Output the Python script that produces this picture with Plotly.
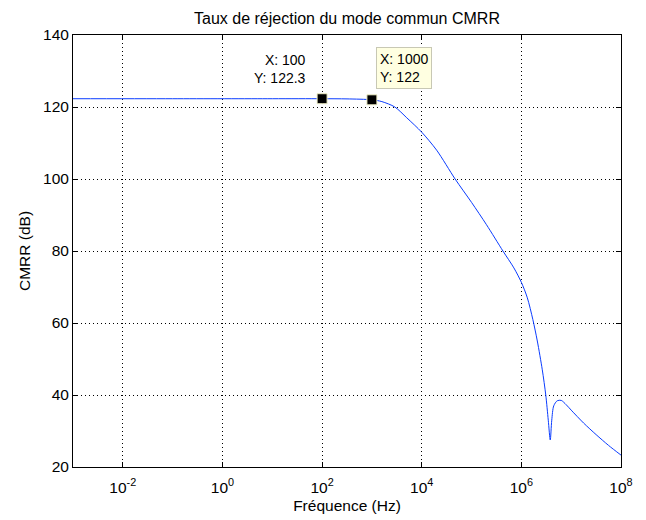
import numpy as np
import plotly.graph_objects as go

# Read values (frequency as log10 exponent, CMRR in dB)
log_freq = [-3, -1, 1, 2, 2.5, 3, 3.2, 3.46, 3.7, 4.0, 4.3, 4.67, 5.0, 5.3, 5.63,
            5.85, 6.0, 6.12, 6.23, 6.32, 6.42, 6.49, 6.54, 6.58, 6.61, 6.65, 6.72,
            6.8, 6.9, 7.0, 7.25, 7.5, 7.75, 8.0]
cmrr_db = [122.3, 122.3, 122.3, 122.3, 122.25, 122.0, 121.5, 120, 117, 113, 108,
           100, 93.5, 87.3, 80, 75.3, 71.3, 67, 61, 55, 47, 40, 33, 27.5, 33, 37,
           38.4, 38.5, 37.3, 35.8, 32.2, 29, 26, 23.3]

tip_x = [100, 1000]
tip_y = [122.3, 122]

x_tickvals = [1e-2, 1e0, 1e2, 1e4, 1e6, 1e8]
x_ticktext = ["10<sup>-2</sup>", "10<sup>0</sup>", "10<sup>2</sup>",
              "10<sup>4</sup>", "10<sup>6</sup>", "10<sup>8</sup>"]
y_tickvals = [20, 40, 60, 80, 100, 120, 140]

freq = [10 ** v for v in log_freq]

FONT = "Liberation Sans, Arial, Helvetica, sans-serif"
FS = 15.5

fig = go.Figure()
fig.add_trace(go.Scatter(
    x=freq, y=cmrr_db, mode="lines",
    line=dict(color="#0a3cff", width=1, shape="spline", smoothing=0.8),
    hoverinfo="skip", showlegend=False))
fig.add_trace(go.Scatter(
    x=tip_x, y=tip_y, mode="markers",
    marker=dict(symbol="square", size=10, color="black",
                line=dict(color="#f0f0c8", width=1)),
    showlegend=False))

fig.add_annotation(x=1.717, y=130.6, xref="x", yref="y",
                   text="X: 100<br>Y: 122.3", showarrow=False,
                   xanchor="right", yanchor="middle", align="right",
                   font=dict(family=FONT, size=14, color="black"))
fig.add_annotation(x=3.082, y=136.7, xref="x", yref="y",
                   text="X: 1000<br>Y: 122", showarrow=False,
                   xanchor="left", yanchor="top", align="left",
                   bgcolor="#ffffe1", bordercolor="#c8c8b4", borderwidth=1,
                   borderpad=3,
                   font=dict(family=FONT, size=14, color="black"))

axis_common = dict(
    showline=True, linecolor="black", linewidth=1, mirror="ticks",
    ticks="inside", ticklen=5, tickcolor="black",
    showgrid=True, gridcolor="#000000", griddash="1px,3px", gridwidth=1,
    zeroline=False, automargin=False,
    tickfont=dict(family=FONT, size=FS, color="black"),
)

fig.update_xaxes(type="log", range=[-3, 8], tickvals=x_tickvals,
                 ticktext=x_ticktext, ticklabelstandoff=6,
                 title=dict(text="Fréquence (Hz)",
                            font=dict(family=FONT, size=FS, color="black"),
                            standoff=5),
                 **axis_common)
fig.update_yaxes(range=[20, 140], tickvals=y_tickvals,
                 title=dict(text="CMRR (dB)",
                            font=dict(family=FONT, size=FS, color="black"),
                            standoff=8),
                 **axis_common)

fig.update_layout(
    width=646, height=520,
    margin=dict(l=73, r=25, t=35, b=53),
    paper_bgcolor="white", plot_bgcolor="white",
    title=dict(text="Taux de réjection du mode commun CMRR",
               x=(73 + 621) / 2 / 646, xanchor="center",
               y=1 - 18 / 520, yanchor="middle",
               font=dict(family=FONT, size=16, color="black")),
    font=dict(family=FONT, size=FS, color="black"),
    showlegend=False,
)

fig.write_html("out.html")
